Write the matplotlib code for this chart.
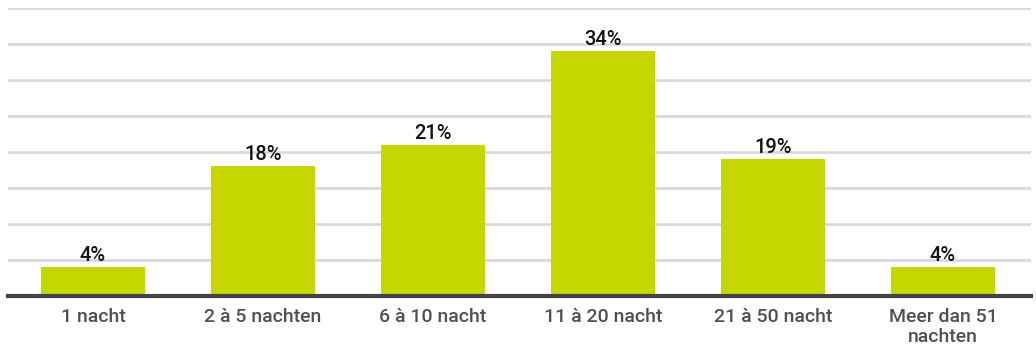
import matplotlib
matplotlib.use("Agg")
import matplotlib.pyplot as plt

categories = ["1 nacht", "2 à 5 nachten", "6 à 10 nacht", "11 à 20 nacht", "21 à 50 nacht", "Meer dan 51\nnachten"]
values = [4, 18, 21, 34, 19, 4]

plt.rcParams["font.family"] = ["Roboto", "DejaVu Sans"]

fig = plt.figure(figsize=(10.36, 3.46), dpi=100)
ax = fig.add_axes([8 / 1036, 50 / 346, 1023 / 1036, 288 / 346])

x = range(len(categories))
bars = ax.bar(x, values, width=0.61, color="#c5d600", zorder=3)

ax.set_ylim(0, 40)
ax.set_xlim(-0.5, len(categories) - 0.5 + 0.018)
ax.set_yticks(range(0, 41, 5))
ax.yaxis.grid(True, color="#d9d9d9", linewidth=2, zorder=0)
ax.tick_params(axis="y", length=0, labelleft=False)
ax.tick_params(axis="x", length=0, pad=9)
ax.set_xticks(list(x))
ax.set_xticklabels(categories, fontsize=14, color="#505050", fontweight="medium", linespacing=1.1)

for s in ["top", "right", "left"]:
    ax.spines[s].set_visible(False)
ax.spines["bottom"].set_color("#444444")
ax.spines["bottom"].set_linewidth(3)
ax.spines["bottom"].set_zorder(4)

for rect, v in zip(bars, values):
    ax.annotate(f"{v}%", (rect.get_x() + rect.get_width() / 2, v),
                xytext=(0, 1.5), textcoords="offset points",
                ha="center", va="bottom", fontsize=14.5, fontweight="medium", color="#111111")

fig.savefig("out.png", dpi=100)
